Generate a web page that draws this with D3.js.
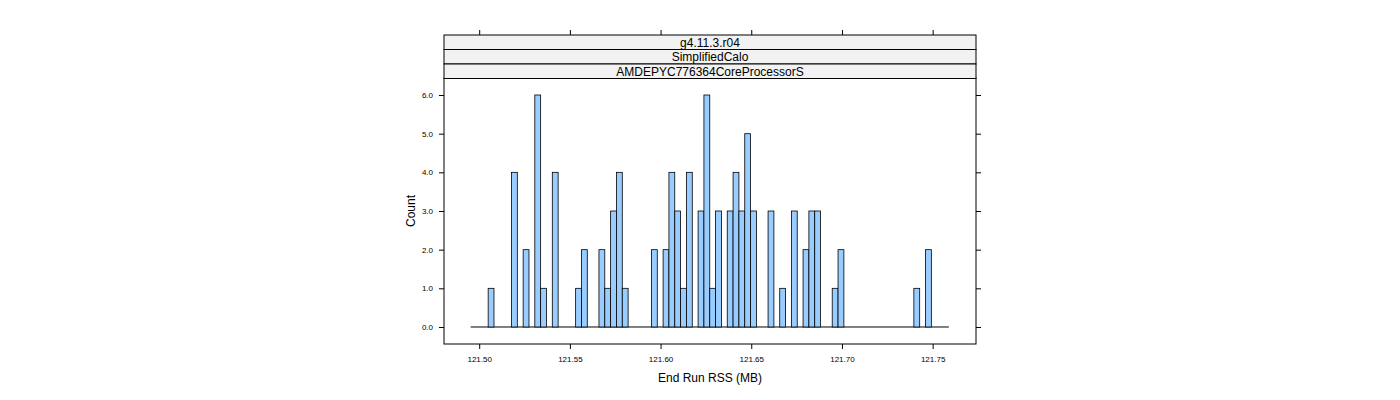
<!DOCTYPE html><html><head><meta charset="utf-8"><script src="https://d3js.org/d3.v7.min.js"></script>
<style>body{margin:0;background:#fff}text{font-family:"Liberation Sans",Arial,sans-serif}</style></head><body><svg id="c" width="1400" height="400"></svg>
<script>
const binStart = 121.4953, binWidth = 0.003215, binCount = 82;
const binIndex = [3,7,9,11,12,14,18,19,22,23,24,25,26,31,33,34,35,36,37,39,40,41,42,44,45,46,47,48,51,53,55,57,58,59,62,63,76,78];
const binCounts = [1,4,2,6,1,4,1,2,2,1,3,4,1,2,2,4,3,1,4,3,6,1,3,3,4,3,5,3,3,1,3,2,3,3,1,2,1,2];
const xTicks = [121.50,121.55,121.60,121.65,121.70,121.75];
const yTicks = [0,1,2,3,4,5,6];
const strips = ["g4.11.3.r04","SimplifiedCalo","AMDEPYC776364CoreProcessorS"];

const svg = d3.select("#c");
const L=444,R=976,T=78,B=344;
const x=d3.scaleLinear().domain([121.4806,121.7739]).range([L,R]);
const y=d3.scaleLinear().domain([-0.44,6.44]).range([B,T]);
const g=svg.append("g");
// baseline
g.append("line").attr("x1",x(binStart)).attr("x2",x(binStart+binCount*binWidth)).attr("y1",y(0)).attr("y2",y(0)).attr("stroke","#000");
binIndex.forEach((bi,k)=>{
  const x0=x(binStart+bi*binWidth), x1=x(binStart+(bi+1)*binWidth);
  g.append("rect").attr("x",x0).attr("width",x1-x0).attr("y",y(binCounts[k])).attr("height",y(0)-y(binCounts[k]))
   .attr("fill","#99CCFF").attr("stroke","#000").attr("stroke-width",0.8);
});
g.append("rect").attr("x",L).attr("y",T).attr("width",R-L).attr("height",B-T).attr("fill","none").attr("stroke","#000");
// strips
strips.forEach((s,i)=>{
  const yy=35+i*14.5;
  g.append("rect").attr("x",L).attr("y",yy).attr("width",R-L).attr("height",14.5).attr("fill","#f2f2f2").attr("stroke","#000");
  g.append("text").attr("x",(L+R)/2).attr("y",yy+11.5).attr("text-anchor","middle").attr("font-size",12).text(s);
});
// axes
const ax=d3.axisBottom(x).tickValues(xTicks).tickFormat(d3.format(".2f")).tickSize(5).tickSizeOuter(0);
const bx=g.append("g").attr("transform",`translate(0,${B})`).call(ax);
const tx=g.append("g").attr("transform",`translate(0,35)`).call(d3.axisTop(x).tickValues(xTicks).tickFormat("").tickSize(5).tickSizeOuter(0));
const ly=g.append("g").attr("transform",`translate(${L},0)`).call(d3.axisLeft(y).tickValues(yTicks).tickSize(5).tickPadding(6).tickSizeOuter(0));
const ry=g.append("g").attr("transform",`translate(${R},0)`).call(d3.axisRight(y).tickValues(yTicks).tickFormat("").tickSize(5).tickSizeOuter(0));
[bx,tx,ly,ry].forEach(a=>{a.select(".domain").remove();a.selectAll("text").attr("font-size",8).attr("font-family","Liberation Sans,Arial");});
bx.selectAll("text").attr("dy","1.2em");
g.append("text").attr("x",(L+R)/2).attr("y",382).attr("text-anchor","middle").attr("font-size",12).text("End Run RSS (MB)");
g.append("text").attr("transform",`translate(415,${(T+B)/2}) rotate(-90)`).attr("text-anchor","middle").attr("font-size",12).text("Count");
</script></body></html>
